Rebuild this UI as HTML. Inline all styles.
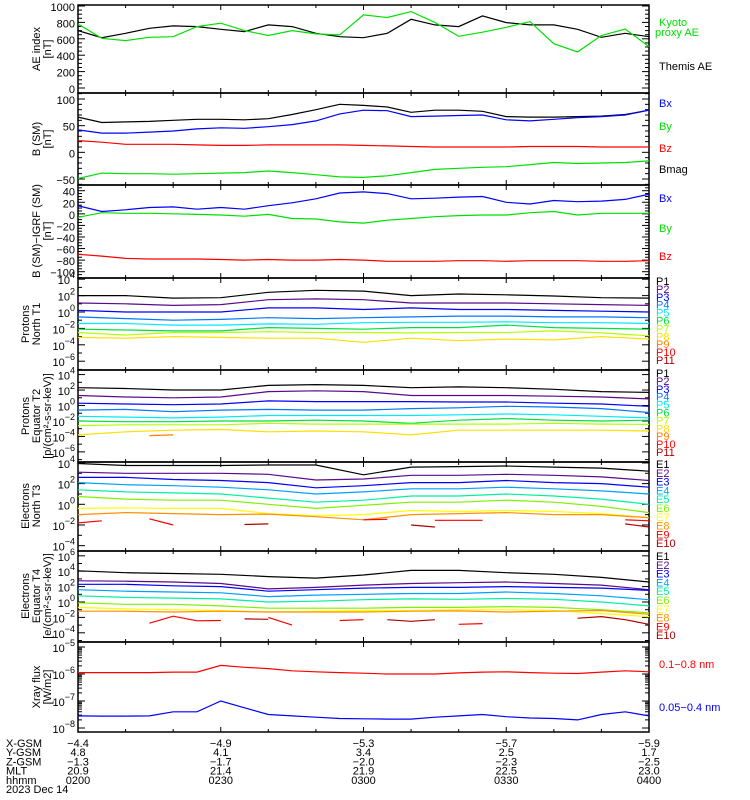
<!DOCTYPE html>
<html><head><meta charset="utf-8">
<style>
html,body{margin:0;padding:0;background:#fff;}
svg{display:block;font-family:"Liberation Sans",sans-serif;}
text{font-size:11px;}
</style></head>
<body>
<svg id="chart" width="750" height="800" viewBox="0 0 750 800" xmlns="http://www.w3.org/2000/svg"></svg>
<script>
// ---- data (5-min grid, 0200-0400 UT) ----
const timeMin5 = [0,5,10,15,20,25,30,35,40,45,50,55,60,65,70,75,80,85,90,95,100,105,110,115,120];
const timeMin10 = [0,10,20,30,40,50,60,70,80,90,100,110,120];
const aeThemis = [700,614,667,728,757,749,716,688,769,749,667,626,614,667,838,769,749,879,798,769,769,716,618,667,626];
const aeKyoto = [781,606,578,618,626,749,790,700,640,700,660,647,891,860,932,800,630,680,740,810,540,440,640,720,505];
const bmag = [66,56,57,58,60,62,62,61,63,71,80,90,88,85,75,79,79,77,67,66,66,67,68,71,79];
const bx = [42,36,36,38,40,44,46,45,48,52,59,72,79,78,67,68,69,70,61,59,62,65,67,70,79];
const bz = [22,19,15,15,15,14,13,13,14,14,14,14,13,12,11,10,10,10,10,11,11,11,10,10,10];
const by = [-49,-39,-40,-40,-41,-40,-39,-38,-35,-38,-42,-46,-47,-44,-38,-32,-30,-28,-27,-23,-19,-21,-20,-19,-16];
const dbx = [14,4,7,11,12,8,11,8,14,19,26,36,38,35,26,27,29,30,20,17,23,21,22,25,34];
const dby = [-6,2,1,1,0,-1,-2,-4,-1,-8,-9,-14,-16,-11,-8,-5,-3,-2,-2,2,4,-2,1,1,1];
const dbz = [-70,-73,-77,-78,-78,-78,-79,-80,-79,-80,-80,-79,-80,-82,-82,-82,-81,-81,-82,-81,-81,-81,-82,-82,-81];
// log10 fluxes, 10-min grid
const protNorthLog = [
 [2.0,2.0,1.7,1.75,2.4,2.65,2.55,2.0,2.2,2.1,1.95,1.75,1.7],
 [1.1,1.0,0.8,0.9,1.5,1.6,1.5,1.1,1.1,1.1,1.0,0.9,0.8],
 [0.2,0,0,0,0.5,0.5,0.3,0.5,0.3,0.3,0.2,0.1,0],
 [-0.6,-0.8,-1.0,-0.9,-0.7,-0.8,-0.7,-0.6,-0.5,-0.5,-0.6,-0.6,-0.7],
 [-1.4,-1.4,-1.6,-1.6,-1.45,-1.5,-1.3,-1.25,-1.25,-1.2,-1.3,-1.3,-1.4],
 [-2.1,-2.2,-2.3,-2.3,-1.9,-2.0,-2.1,-1.9,-1.9,-1.6,-1.9,-2.0,-2.1],
 [-2.5,-2.8,-2.5,-2.5,-2.4,-2.5,-2.5,-2.55,-2.5,-2.5,-2.3,-2.55,-2.9],
 [-3.1,-3.2,-3.0,-3.1,-3.2,-3.2,-3.7,-3.2,-3.5,-3.3,-3.4,-3.0,-3.3]
];
const protEqLog = [
 [2.3,2.2,2.0,2.0,2.6,2.7,2.6,2.3,2.4,2.3,2.1,1.8,1.7],
 [1.3,1.1,1.0,1.1,1.8,1.9,1.8,1.3,1.3,1.3,1.2,1.1,0.85],
 [0.3,0.2,0.1,0.2,0.6,0.5,0.5,0.5,0.45,0.45,0.3,0.2,-0.1],
 [-0.6,-0.5,-0.8,-0.6,-0.5,-0.6,-0.6,-0.4,-0.3,-0.1,-0.2,-0.4,-0.9],
 [-1.4,-1.5,-1.6,-1.5,-1.3,-1.3,-1.3,-1.3,-1.2,-1.1,-1.2,-1.4,-1.6],
 [-2.0,-2.1,-2.1,-2.0,-2.0,-1.9,-2.0,-2.3,-1.9,-1.7,-1.9,-2.0,-1.9],
 [-2.6,-2.5,-2.5,-2.5,-2.3,-2.4,-2.4,-2.4,-2.4,-2.4,-2.3,-2.4,-2.45],
 [-3.8,-3.4,-3.2,-3.1,-3.4,-3.3,-3.4,-3.8,-3.2,-3.2,-3.2,-3.2,-3.3]
];
const protEqP9Log = [null,null,null,-3.9,-3.8,null,null,null,null,null,null,null,null,null,null,null,null,null,null,null,null,null,null,null,null];
const elecNorthLog = [
 [3.95,3.75,3.75,3.75,3.8,3.8,2.85,3.6,3.65,3.7,3.6,3.5,3.2],
 [3.1,3.0,3.0,3.0,2.9,2.35,2.45,2.8,2.8,2.9,2.8,2.65,2.3],
 [2.6,2.6,2.4,2.3,2.1,1.6,1.8,2.1,2.1,2.3,2.1,2.0,1.65],
 [2.1,1.9,1.8,1.65,1.4,1.0,1.2,1.5,1.5,1.65,1.5,1.3,1.0],
 [1.4,1.2,1.1,1.0,0.6,0.2,0.4,0.8,0.8,1.0,0.8,0.5,0.0],
 [0.75,0.5,0.4,0.4,0.0,-0.4,-0.1,0.2,0.2,0.4,0.2,-0.2,-0.8],
 [-0.4,-0.35,-0.4,-0.4,-0.9,-1.1,-1.0,-0.6,-0.7,-0.6,-0.7,-0.9,-1.3],
 [-1.0,-0.8,-0.9,-1.0,-0.95,-1.2,-1.5,-1.0,-0.9,-0.8,-1.0,-1.0,-1.3]
];
const elecNorthE9Log = [-1.8,-1.6,null,-1.4,-2.0,null,null,null,null,null,null,null,-1.5,-1.45,null,-1.55,-1.55,-1.55,null,null,null,null,null,-1.5,-1.6];
const elecNorthE10Log = [null,null,null,null,null,null,null,-1.95,-1.9,null,null,null,null,null,-2.0,-2.2,null,null,null,null,null,null,null,-1.9,-2.2];
const elecEqLog = [
 [4.05,3.8,3.7,3.6,3.3,3.1,3.5,4.1,4.1,3.8,3.6,3.2,2.6],
 [2.75,2.7,2.6,2.4,1.7,1.9,2.2,2.4,2.5,2.6,2.4,2.2,1.6],
 [2.3,2.3,2.1,2.0,1.4,1.6,1.8,1.9,1.9,2.0,1.9,1.8,1.5],
 [1.6,1.4,1.3,1.2,0.7,0.9,1.0,1.1,1.1,1.3,1.1,0.8,0.3],
 [0.8,0.6,0.5,0.4,0.0,0.1,0.3,0.4,0.35,0.45,0.35,0.0,-0.5],
 [-0.1,-0.3,-0.3,-0.5,-0.8,-0.8,-0.8,-0.7,-0.7,-0.6,-0.7,-1.0,-1.4],
 [-0.7,-0.9,-1.0,-1.1,-1.3,-1.2,-1.1,-1.1,-1.0,-1.0,-1.1,-1.5,-1.9],
 [-1.2,-1.2,-1.3,-1.2,-1.3,-1.3,-1.3,-1.2,-1.15,-1.3,-1.2,-1.1,-1.6]
];
const elecEqE9Log = [null,null,null,-2.75,-1.85,-2.44,-2.4,null,-2.0,-3.0,null,-2.4,-2.3,null,null,null,-2.9,-2.8,null,null,null,null,null,null,null];
const elecEqE10Log = [null,null,null,null,null,null,null,-2.2,-2.25,null,null,null,null,-2.3,-2.5,-2.3,null,null,null,null,null,-2.1,-1.9,-2.3,-2.9];
const xrayLongLog = [-5.95,-5.95,-5.95,-5.95,-5.93,-5.93,-5.68,-5.75,-5.8,-5.88,-5.92,-5.95,-5.97,-6.0,-6.0,-6.0,-5.96,-5.93,-5.92,-5.95,-5.97,-5.98,-5.93,-5.88,-5.92];
const xrayShortLog = [-7.55,-7.56,-7.56,-7.55,-7.4,-7.4,-7.0,-7.25,-7.5,-7.55,-7.6,-7.65,-7.66,-7.67,-7.67,-7.6,-7.55,-7.5,-7.58,-7.63,-7.65,-7.7,-7.5,-7.4,-7.55];
const tickTimes = ["0200","0230","0300","0330","0400"];
const xgsm = ["-4.4","-4.9","-5.3","-5.7","-5.9"];
const ygsm = ["4.8","4.1","3.4","2.5","1.7"];
const zgsm = ["-1.3","-1.7","-2.0","-2.3","-2.5"];
const mlt = ["20.9","21.4","21.9","22.5","23.0"];

// ---- geometry ----
const NS="http://www.w3.org/2000/svg";
const svg=document.getElementById('chart');
const X0=78,X1=649;
const xs=t=>X0+t*(X1-X0)/120;
function el(tag,attrs,parent){const e=document.createElementNS(NS,tag);for(const k in attrs)e.setAttribute(k,attrs[k]);(parent||svg).appendChild(e);return e;}
const panels=[
 {top:5,bot:93,v1:1000,y1:6,v2:0,y2:88},
 {top:93,bot:185,v1:100,y1:99,v2:-50,y2:179},
 {top:185,bot:278,v1:40,y1:190.7,v2:-100,y2:271.7},
 {top:278,bot:370,v1:0,y1:312,v2:1,y2:303.8},
 {top:370,bot:462,v1:0,y1:405.5,v2:1,y2:397.77},
 {top:462,bot:551,v1:0,y1:504.3,v2:1,y2:493.96},
 {top:551,bot:642,v1:0,y1:602,v2:1,y2:594.3},
 {top:642,bot:732,v1:-6,y1:674,v2:-5,y2:647}
];
panels.forEach(p=>{p.ys=v=>p.y1+(v-p.v1)*(p.y2-p.y1)/(p.v2-p.v1);});
const defs=el('defs',{});
panels.forEach((p,i)=>{const c=el('clipPath',{id:'clip'+i},defs);el('rect',{x:X0,y:p.top,width:X1-X0,height:p.bot-p.top},c);});

function drawLine(pi,times,vals,color,name){
  const p=panels[pi];let segs=[],cur=[];
  vals.forEach((v,i)=>{if(v===null){if(cur.length)segs.push(cur);cur=[];}else cur.push(xs(times[i]).toFixed(1)+','+p.ys(v).toFixed(1));});
  if(cur.length)segs.push(cur);
  segs.forEach(s=>{if(s.length<2)return;
    const pl=el('polyline',{points:s.join(' '),fill:'none',stroke:color,'stroke-width':1.2,'clip-path':'url(#clip'+pi+')'});
    
    
  });
}
function txt(x,y,s,opts,parent){const t=el('text',Object.assign({x:x,y:y},opts||{}),parent);t.textContent=s;return t;}
function logLabel(x,y,exp,name){
  const t=el('text',{x:x,y:y,'text-anchor':'end','font-size':'13'});
  
  
  const a=el('tspan',{},t);a.textContent='10';
  const b=el('tspan',{dy:-6,'font-size':'9'},t);b.textContent=String(exp).replace('-','\u2212');
}

// frames & x ticks
panels.forEach((p,i)=>{
  const r=el('rect',{x:X0,y:p.top,width:X1-X0,height:p.bot-p.top,fill:'none',stroke:'#000','stroke-width':1.5});
  
  
  for(let t=0;t<=120;t+=10){const L=(t%30===0)?5:3;
    el('line',{x1:xs(t),x2:xs(t),y1:p.bot,y2:p.bot-L,stroke:'#000'});
    el('line',{x1:xs(t),x2:xs(t),y1:p.top,y2:p.top+L,stroke:'#000'});}
});
function yTicks(pi,vals,major){const p=panels[pi];vals.forEach(v=>{const y=p.ys(v);if(y<p.top||y>p.bot)return;const L=major?7:4;
  el('line',{x1:X0,x2:X0+L,y1:y,y2:y,stroke:'#000'});el('line',{x1:X1,x2:X1-L,y1:y,y2:y,stroke:'#000'});});}
// panel 1 ticks
for(let v=0;v<=1000;v+=50)yTicks(0,[v],v%200===0);
[0,200,400,600,800,1000].forEach(v=>{const t=txt(75,panels[0].ys(v)+5,String(v),{'text-anchor':'end','font-size':'13'});});
for(let v=-60;v<=110;v+=10)yTicks(1,[v],v%50===0);
[100,50,0,-50].forEach(v=>{const t=txt(75,panels[1].ys(v)+5,String(v).replace('-','\u2212'),{'text-anchor':'end','font-size':'13'});});
for(let v=-110;v<=50;v+=5)yTicks(2,[v],v%20===0);
[40,20,0,-20,-40,-60,-80,-100].forEach(v=>{const t=txt(75,panels[2].ys(v)+5,String(v).replace('-','\u2212'),{'text-anchor':'end','font-size':'13'});});
[[3,[4,2,0,-2,-4,-6]],[4,[4,2,0,-2,-4,-6]],[5,[4,2,0,-2,-4]],[6,[6,4,2,0,-2,-4]]].forEach(([pi,ex])=>{
  for(let e=-8;e<=7;e++)yTicks(pi,[e],e%2===0);
  ex.forEach(e=>logLabel(75,panels[pi].ys(e)+5,e,'log-tick'));
});
for(let e=-8;e<=-5;e++){yTicks(7,[e],true);for(let m=2;m<10;m++)yTicks(7,[e+Math.log10(m)],false);}
[-5,-6,-7,-8].forEach(e=>logLabel(75,panels[7].ys(e)+5,e,'xray-tick'));

// series
drawLine(0,timeMin5,aeThemis,'#000','themis-ae-line');
drawLine(0,timeMin5,aeKyoto,'#00e000','kyoto-ae-line');
drawLine(1,timeMin5,bmag,'#000','bmag-line');
drawLine(1,timeMin5,bx,'#0000ff','bx-line');
drawLine(1,timeMin5,bz,'#ff0000','bz-line');
drawLine(1,timeMin5,by,'#00e000','by-line');
drawLine(2,timeMin5,dbx,'#0000ff','dbx-line');
drawLine(2,timeMin5,dby,'#00e000','dby-line');
drawLine(2,timeMin5,dbz,'#ff0000','dbz-line');
const pCols=['#000000','#5a0a8c','#0000ff','#0078ff','#00e8ff','#00e040','#b4ff00','#ffe000','#ff8000','#ff0000','#b00000'];
const eCols=['#000000','#5a0a8c','#0000ff','#00a0ff','#00f0a0','#80f000','#ffff00','#ff9000','#ff0000','#b00000'];
protNorthLog.forEach((s,i)=>drawLine(3,timeMin10,s,pCols[i],'proton-north-p'+(i+1)));
protEqLog.forEach((s,i)=>drawLine(4,timeMin10,s,pCols[i],'proton-eq-p'+(i+1)));
drawLine(4,timeMin5,protEqP9Log,pCols[8],'proton-eq-p9');
elecNorthLog.forEach((s,i)=>drawLine(5,timeMin10,s,eCols[i],'electron-north-e'+(i+1)));
drawLine(5,timeMin5,elecNorthE9Log,eCols[8],'electron-north-e9');
drawLine(5,timeMin5,elecNorthE10Log,eCols[9],'electron-north-e10');
elecEqLog.forEach((s,i)=>drawLine(6,timeMin10,s,eCols[i],'electron-eq-e'+(i+1)));
drawLine(6,timeMin5,elecEqE9Log,eCols[8],'electron-eq-e9');
drawLine(6,timeMin5,elecEqE10Log,eCols[9],'electron-eq-e10');
drawLine(7,timeMin5,xrayLongLog,'#ff0000','xray-long-line');
drawLine(7,timeMin5,xrayShortLog,'#0000ff','xray-short-line');

// right legends
function leg(x,y,s,c,name,fs){const t=txt(x,y,s,{fill:c,'font-size':fs||11});}
leg(659,26,'Kyoto','#00e000','legend-kyoto');leg(655,36,'proxy AE','#00e000','legend-proxy-ae');
leg(659,70,'Themis AE','#000','legend-themis-ae');
leg(659,107,'Bx','#0000ff','legend-bx');leg(659,130,'By','#00e000','legend-by');leg(659,152,'Bz','#ff0000','legend-bz');leg(659,173,'Bmag','#000','legend-bmag');
leg(659,202,'Bx','#0000ff','legend-dbx');leg(659,232,'By','#00e000','legend-dby');leg(659,260,'Bz','#ff0000','legend-dbz');
for(let i=0;i<11;i++){leg(656,285+i*7.9,'P'+(i+1),pCols[i],'legend-pn-p'+(i+1),9.5);leg(656,377+i*7.9,'P'+(i+1),pCols[i],'legend-pe-p'+(i+1),9.5);}
for(let i=0;i<10;i++){leg(656,468+i*8.8,'E'+(i+1),eCols[i],'legend-en-e'+(i+1),10);leg(656,560+i*8.8,'E'+(i+1),eCols[i],'legend-ee-e'+(i+1),10);}
leg(659,668,'0.1\u22120.8 nm','#ff0000','legend-xray-long');leg(659,711,'0.05\u22120.4 nm','#0000ff','legend-xray-short');

// y-axis titles
function ytitle(x,y,lines,name){const g=el('g',{transform:'translate('+x+','+y+') rotate(-90)'});
  lines.forEach((s,i)=>txt(0,i*11,s,{'text-anchor':'middle','font-size':'11'},g));}
ytitle(40,49,['AE index','[nT]'],'ae-axis-title');
ytitle(40,139,['B (SM)','[nT]'],'b-axis-title');
ytitle(40,231,['B (SM)\u2212IGRF (SM)','[nT]'],'db-axis-title');
ytitle(29,324,['Protons','North T1'],'pn-axis-title');
ytitle(29,416,['Protons','Equator T2','[p/(cm\u00b2-s-sr-keV)]'],'pe-axis-title');
ytitle(29,506,['Electrons','North T3'],'en-axis-title');
ytitle(29,596,['Electrons','Equator T4','[e/(cm\u00b2-s-sr-keV)]'],'ee-axis-title');
ytitle(40,687,['Xray flux','[W/m2]'],'xray-axis-title');

// bottom ephemeris
const rows=[['X-GSM',xgsm],['Y-GSM',ygsm],['Z-GSM',zgsm],['MLT',mlt],['hhmm',tickTimes]];
rows.forEach(([lab,arr],r)=>{const y=747+r*9.2;
  const t=txt(6,y,lab,{'font-size':'11'});
  arr.forEach((v,i)=>{const tt=txt(xs(i*30),y,v.replace('-','\u2212'),{'text-anchor':'middle','font-size':'11'});});
});
const dt=txt(6,793,'2023 Dec 14',{'font-size':'11'});
</script>
</body></html>
